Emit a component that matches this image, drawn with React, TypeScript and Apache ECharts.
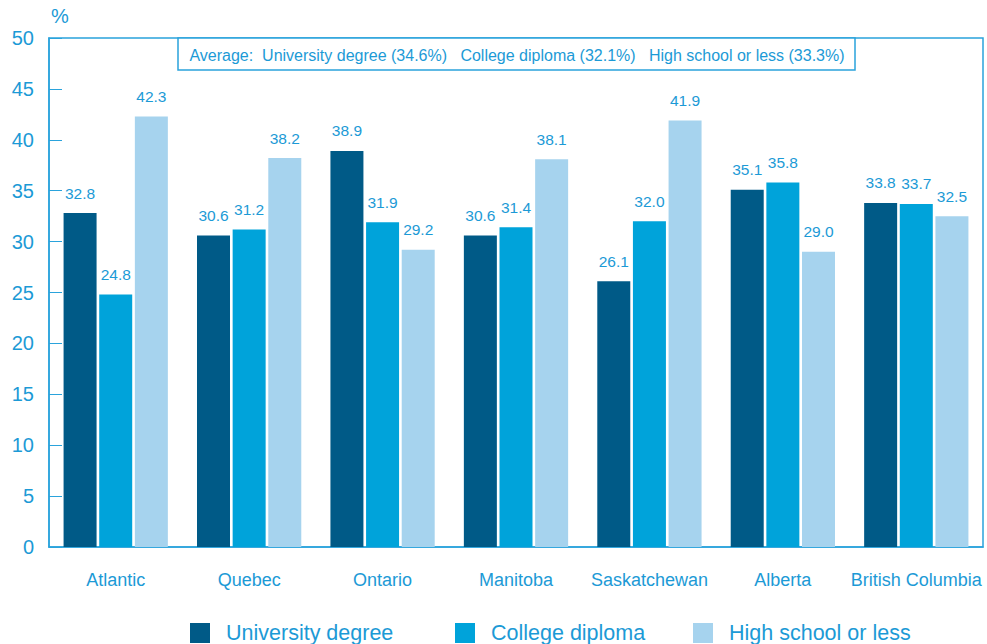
import React, { useEffect, useRef } from "react";
import * as echarts from "echarts";

const categories = ["Atlantic", "Quebec", "Ontario", "Manitoba", "Saskatchewan", "Alberta", "British Columbia"];
const university = [32.8, 30.6, 38.9, 30.6, 26.1, 35.1, 33.8];
const college = [24.8, 31.2, 31.9, 31.4, 32.0, 35.8, 33.7];
const highSchool = [42.3, 38.2, 29.2, 38.1, 41.9, 29.0, 32.5];
const seriesNames = ["University degree", "College diploma", "High school or less"];
const averageText = "Average:  University degree (34.6%)   College diploma (32.1%)   High school or less (33.3%)";

const TXT = "#1c9ad6";
const AXIS = "#2aa3dc";
const FONT = "Liberation Sans, Arial, sans-serif";

export default function App() {
  const ref = useRef<HTMLDivElement>(null);
  useEffect(() => {
    const chart = echarts.init(ref.current!, null, { renderer: "svg" });
    const label = {
      show: true,
      position: "top" as const,
      distance: 12,
      color: TXT,
      fontSize: 15.5,
      fontFamily: FONT,
      formatter: (p: any) => Number(p.value).toFixed(1),
    };
    const mk = (name: string, data: number[], color: string) => ({
      name,
      type: "bar",
      data,
      barWidth: 33,
      barGap: "8%",
      itemStyle: { color },
      label,
    });
    const legendAt = (name: string, left: number) => ({
      top: 617,
      left,
      itemWidth: 20,
      itemHeight: 20,
      icon: "rect",
      textStyle: { color: TXT, fontSize: 21.5, fontFamily: FONT, padding: [0, 0, 0, 11] },
      data: [name],
    });
    chart.setOption({
      animation: false,
      textStyle: { fontFamily: FONT },
      grid: {
        left: 49,
        right: 4,
        top: 38,
        bottom: 97,
        show: true,
        borderColor: AXIS,
        borderWidth: 1.5,
        backgroundColor: "transparent",
      },
      legend: [
        legendAt(seriesNames[0], 185),
        legendAt(seriesNames[1], 450),
        legendAt(seriesNames[2], 688),
      ],
      xAxis: {
        type: "category",
        data: categories,
        axisLine: { lineStyle: { color: AXIS, width: 1.5 } },
        axisTick: { inside: true, length: 12, lineStyle: { color: AXIS } },
        axisLabel: { color: TXT, fontSize: 18, margin: 24, fontFamily: FONT, interval: 0 },
      },
      yAxis: {
        type: "value",
        min: 0,
        max: 50,
        interval: 5,
        axisLine: { show: true, lineStyle: { color: AXIS, width: 1.5 } },
        axisTick: { show: true, inside: true, length: 13, lineStyle: { color: AXIS } },
        axisLabel: { color: TXT, fontSize: 20, margin: 15, fontFamily: FONT },
        splitLine: { show: false },
      },
      graphic: [
        {
          type: "text",
          left: 51,
          top: 6,
          style: { text: "%", fill: TXT, font: `20px ${FONT}` },
        },
        {
          type: "rect",
          shape: { x: 178, y: 38, width: 677, height: 32 },
          style: { fill: "#fff", stroke: AXIS, lineWidth: 1.5 },
        },
        {
          type: "text",
          x: 517,
          y: 55,
          style: {
            text: averageText,
            fill: TXT,
            font: `16px ${FONT}`,
            align: "center",
            verticalAlign: "middle",
          },
        },
      ],
      series: [
        mk(seriesNames[0], university, "#005a87"),
        mk(seriesNames[1], college, "#00a3da"),
        mk(seriesNames[2], highSchool, "#a6d3ee"),
      ],
    });
    return () => chart.dispose();
  }, []);
  return <div ref={ref} style={{ width: 987, height: 644, position: "absolute", left: 0, top: 0 }} />;
}
